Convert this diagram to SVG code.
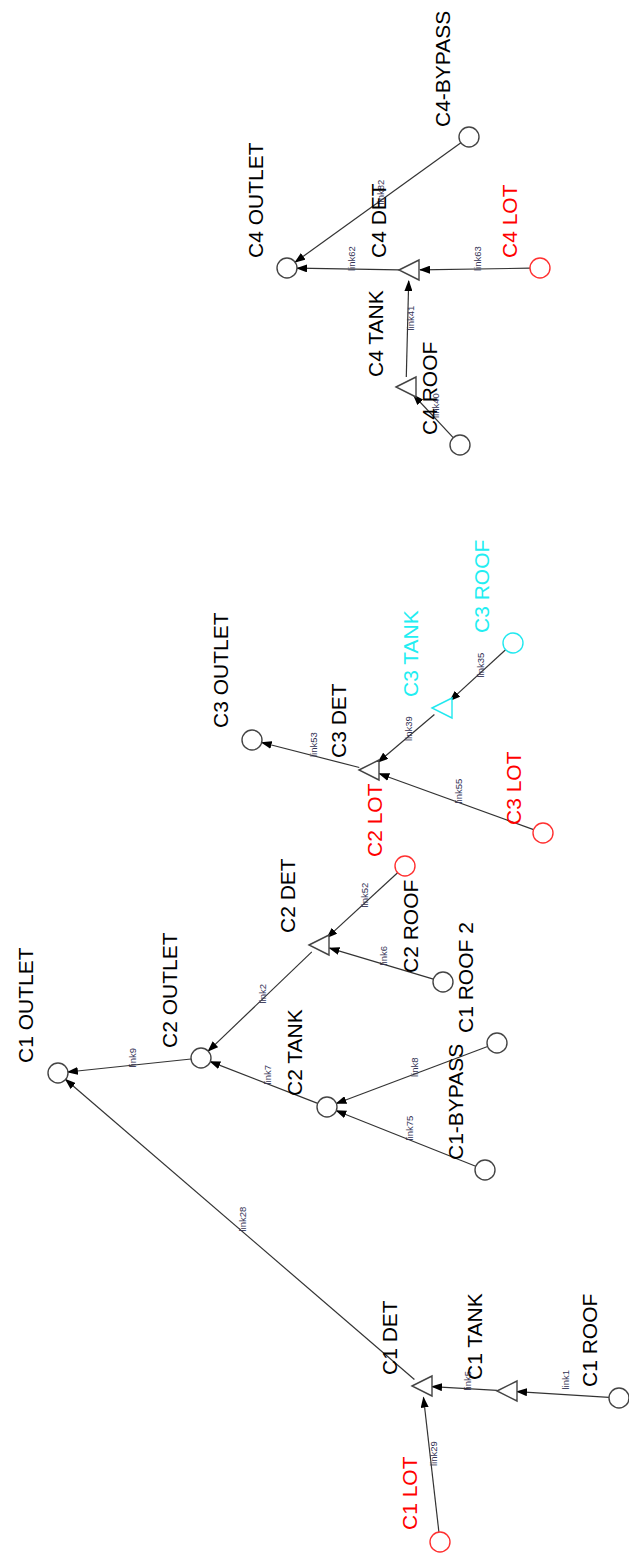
<svg xmlns="http://www.w3.org/2000/svg" width="629" height="1556" viewBox="0 0 629 1556">
<style>
.bg{fill:#ffffff}
.n{fill:#ffffff;stroke:#444444;stroke-width:1.4}
.red{stroke:#ff3030}
.cyan{stroke:#22e8ef}
.lbl{font-family:"Liberation Sans",Arial,sans-serif;font-size:21px;fill:#000000}
.lr{fill:#ff0000}
.lc{fill:#22eef2}
.ln{stroke:#333333;stroke-width:1.2;fill:none;marker-end:url(#ah)}
.ll{font-family:"Liberation Sans",Arial,sans-serif;font-size:9.5px;fill:#333355}
</style>
<defs>
<marker id="ah" markerWidth="11" markerHeight="8" refX="10" refY="4" orient="auto" markerUnits="userSpaceOnUse">
<path d="M0,0 L11,4 L0,8 Z" fill="#000000"/>
</marker>
</defs>
<rect class="bg" x="0" y="0" width="629" height="1556"/>
<g id="connectors">
<line class="ln" x1="609" y1="1397.4" x2="517" y2="1391.6"/>
<line class="ln" x1="497" y1="1390.4" x2="432" y2="1386.6"/>
<line class="ln" x1="438.9" y1="1532" x2="423.5" y2="1397.5"/>
<line class="ln" x1="414.4" y1="1379.5" x2="65.6" y2="1079.5"/>
<line class="ln" x1="191.1" y1="1059" x2="67.9" y2="1072"/>
<line class="ln" x1="317.7" y1="1103.4" x2="210.3" y2="1061.6"/>
<line class="ln" x1="487.6" y1="1046.5" x2="336.4" y2="1103.5"/>
<line class="ln" x1="475.7" y1="1166.3" x2="336.3" y2="1110.7"/>
<line class="ln" x1="311.8" y1="951.9" x2="208.2" y2="1051.1"/>
<line class="ln" x1="397.6" y1="872.8" x2="327.1" y2="937.6"/>
<line class="ln" x1="433.4" y1="979.1" x2="329.5" y2="948.1"/>
<line class="ln" x1="359.3" y1="767.5" x2="261.7" y2="742.5"/>
<line class="ln" x1="434.4" y1="714.5" x2="378.1" y2="762.2"/>
<line class="ln" x1="505.6" y1="649.8" x2="450.1" y2="700.6"/>
<line class="ln" x1="533.6" y1="829.6" x2="379.3" y2="773.7"/>
<line class="ln" x1="399" y1="269.8" x2="297" y2="268.2"/>
<line class="ln" x1="460.9" y1="142.8" x2="295.1" y2="262.2"/>
<line class="ln" x1="530" y1="268.2" x2="420" y2="269.8"/>
<line class="ln" x1="406.3" y1="377" x2="408.7" y2="281"/>
<line class="ln" x1="453.2" y1="437.7" x2="413.5" y2="395"/>
<text class="ll" x="569" y="1389.5" transform="rotate(-90 569 1389.5)">link1</text>
<text class="ll" x="470.5" y="1390.5" transform="rotate(-90 470.5 1390.5)">link5</text>
<text class="ll" x="437" y="1466" transform="rotate(-90 437 1466)">link29</text>
<text class="ll" x="246" y="1231.5" transform="rotate(-90 246 1231.5)">link28</text>
<text class="ll" x="136" y="1067.5" transform="rotate(-90 136 1067.5)">link9</text>
<text class="ll" x="270.5" y="1084.5" transform="rotate(-90 270.5 1084.5)">link7</text>
<text class="ll" x="418" y="1077" transform="rotate(-90 418 1077)">link8</text>
<text class="ll" x="412.5" y="1140.5" transform="rotate(-90 412.5 1140.5)">link75</text>
<text class="ll" x="266" y="1003.5" transform="rotate(-90 266 1003.5)">link2</text>
<text class="ll" x="368" y="907.5" transform="rotate(-90 368 907.5)">link52</text>
<text class="ll" x="387" y="965.5" transform="rotate(-90 387 965.5)">link6</text>
<text class="ll" x="316.5" y="757" transform="rotate(-90 316.5 757)">link53</text>
<text class="ll" x="411.5" y="741" transform="rotate(-90 411.5 741)">link39</text>
<text class="ll" x="483.5" y="677.5" transform="rotate(-90 483.5 677.5)">link35</text>
<text class="ll" x="462" y="803.5" transform="rotate(-90 462 803.5)">link55</text>
<text class="ll" x="354.5" y="271" transform="rotate(-90 354.5 271)">link62</text>
<text class="ll" x="384" y="204.5" transform="rotate(-90 384 204.5)">link82</text>
<text class="ll" x="480.5" y="271" transform="rotate(-90 480.5 271)">link63</text>
<text class="ll" x="413.5" y="330.5" transform="rotate(-90 413.5 330.5)">link41</text>
<text class="ll" x="439" y="418" transform="rotate(-90 439 418)">link40</text>
</g>
<g id="C4-BYPASS"><circle class="n" cx="469" cy="137" r="10"/><text class="lbl" x="450" y="127" transform="rotate(-90 450 127)">C4-BYPASS</text></g>
<g id="C4-OUTLET"><circle class="n" cx="287" cy="268" r="10"/><text class="lbl" x="263" y="258" transform="rotate(-90 263 258)">C4 OUTLET</text></g>
<g id="C4-DET"><path class="n" d="M399,270 L419,260 L419,280 Z"/><text class="lbl" x="386" y="258" transform="rotate(-90 386 258)">C4 DET</text></g>
<g id="C4-LOT"><circle class="n red" cx="540" cy="268" r="10"/><text class="lbl lr" x="517" y="258" transform="rotate(-90 517 258)">C4 LOT</text></g>
<g id="C4-TANK"><path class="n" d="M396,387 L416,377 L416,397 Z"/><text class="lbl" x="383" y="377" transform="rotate(-90 383 377)">C4 TANK</text></g>
<g id="C4-ROOF"><circle class="n" cx="460" cy="445" r="10"/><text class="lbl" x="437" y="435" transform="rotate(-90 437 435)">C4 ROOF</text></g>
<g id="C3-OUTLET"><circle class="n" cx="252" cy="740" r="10"/><text class="lbl" x="228" y="728" transform="rotate(-90 228 728)">C3 OUTLET</text></g>
<g id="C3-DET"><path class="n" d="M359,770 L379,760 L379,780 Z"/><text class="lbl" x="346" y="758" transform="rotate(-90 346 758)">C3 DET</text></g>
<g id="C3-TANK"><path class="n cyan" d="M432,708 L452,698 L452,718 Z"/><text class="lbl lc" x="418" y="697" transform="rotate(-90 418 697)">C3 TANK</text></g>
<g id="C3-ROOF"><circle class="n cyan" cx="513" cy="643" r="10"/><text class="lbl lc" x="489" y="633" transform="rotate(-90 489 633)">C3 ROOF</text></g>
<g id="C3-LOT"><circle class="n red" cx="543" cy="833" r="10"/><text class="lbl lr" x="521" y="825" transform="rotate(-90 521 825)">C3 LOT</text></g>
<g id="C2-LOT"><circle class="n red" cx="405" cy="866" r="10"/><text class="lbl lr" x="382" y="857" transform="rotate(-90 382 857)">C2 LOT</text></g>
<g id="C2-DET"><path class="n" d="M309,945 L329,935 L329,955 Z"/><text class="lbl" x="295" y="933" transform="rotate(-90 295 933)">C2 DET</text></g>
<g id="C2-OUTLET"><circle class="n" cx="201" cy="1058" r="10"/><text class="lbl" x="177" y="1048" transform="rotate(-90 177 1048)">C2 OUTLET</text></g>
<g id="C2-ROOF"><circle class="n" cx="443" cy="982" r="10"/><text class="lbl" x="418" y="973" transform="rotate(-90 418 973)">C2 ROOF</text></g>
<g id="C1-ROOF-2"><circle class="n" cx="497" cy="1043" r="10"/><text class="lbl" x="473" y="1033" transform="rotate(-90 473 1033)">C1 ROOF 2</text></g>
<g id="C2-TANK"><circle class="n" cx="327" cy="1107" r="10"/><text class="lbl" x="302" y="1096" transform="rotate(-90 302 1096)">C2 TANK</text></g>
<g id="C1-BYPASS"><circle class="n" cx="485" cy="1170" r="10"/><text class="lbl" x="463" y="1160" transform="rotate(-90 463 1160)">C1-BYPASS</text></g>
<g id="C1-OUTLET"><circle class="n" cx="58" cy="1073" r="10"/><text class="lbl" x="33" y="1063" transform="rotate(-90 33 1063)">C1 OUTLET</text></g>
<g id="C1-DET"><path class="n" d="M412,1386 L432,1376 L432,1396 Z"/><text class="lbl" x="397" y="1375" transform="rotate(-90 397 1375)">C1 DET</text></g>
<g id="C1-TANK"><path class="n" d="M497,1391 L517,1381 L517,1401 Z"/><text class="lbl" x="482" y="1380" transform="rotate(-90 482 1380)">C1 TANK</text></g>
<g id="C1-ROOF"><circle class="n" cx="619" cy="1398" r="10"/><text class="lbl" x="597" y="1387" transform="rotate(-90 597 1387)">C1 ROOF</text></g>
<g id="C1-LOT"><circle class="n red" cx="440" cy="1542" r="10"/><text class="lbl lr" x="417" y="1530" transform="rotate(-90 417 1530)">C1 LOT</text></g>
</svg>
